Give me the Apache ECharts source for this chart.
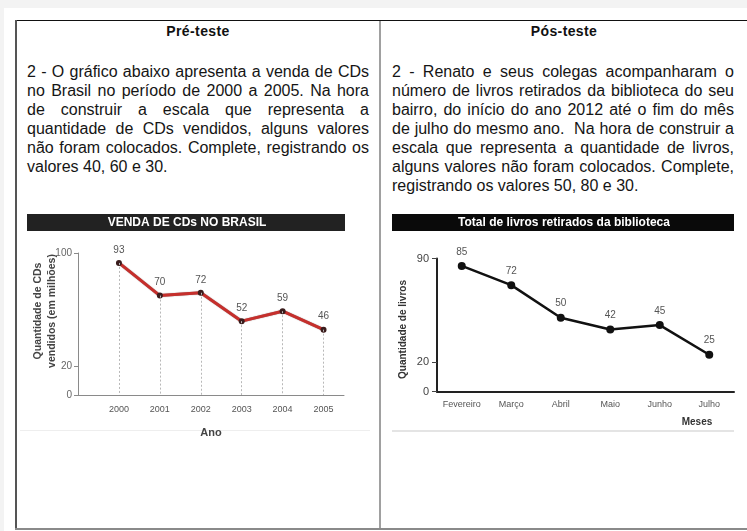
<!DOCTYPE html>
<html lang="pt-BR"><head><meta charset="utf-8">
<script src="https://cdn.jsdelivr.net/npm/echarts@6/dist/echarts.min.js"></script>
<style>
html,body{margin:0;padding:0;width:747px;height:531px;overflow:hidden;background:#f3f3f3;}
#page{position:absolute;left:4px;top:8px;width:743px;height:523px;background:#fff;}
.ln{position:absolute;}
.hd{position:absolute;top:23px;font:bold 14px "Liberation Sans",Arial,sans-serif;line-height:16px;color:#111;text-align:center;letter-spacing:0.4px;}
.par{position:absolute;top:62px;width:342px;font:16px "Liberation Sans",Arial,sans-serif;line-height:19px;color:#151515;}
.par div{text-align:justify;text-align-last:justify;white-space:nowrap;}
.par div.last{text-align:left;text-align-last:left;}
#chart{position:absolute;left:0;top:0;width:747px;height:531px;}
</style></head>
<body>
<div id="page"></div>
<div class="ln" style="left:15px;top:20px;width:732px;height:1px;background:#111"></div>
<div class="ln" style="left:15px;top:20px;width:2px;height:510px;background:#555"></div>
<div class="ln" style="left:379px;top:21px;width:2px;height:508px;background:#a0a0a0"></div>
<div class="ln" style="left:15px;top:528px;width:732px;height:2px;background:#8a8a8a"></div>
<div class="hd" style="left:17px;width:362px">Pré-teste</div>
<div class="hd" style="left:381px;width:366px">Pós-teste</div>
<div class="par" style="left:27px">
<div>2 - O gráfico abaixo apresenta a venda de CDs</div>
<div>no Brasil no período de 2000 a 2005. Na hora</div>
<div>de construir a escala que representa a</div>
<div>quantidade de CDs vendidos, alguns valores</div>
<div>não foram colocados. Complete, registrando os</div>
<div class="last">valores 40, 60 e 30.</div>
</div>
<div class="par" style="left:392px">
<div>2 - Renato e seus colegas acompanharam o</div>
<div>número de livros retirados da biblioteca do seu</div>
<div>bairro, do início do ano 2012 até o fim do mês</div>
<div>de julho do mesmo ano.&nbsp; Na hora de construir a</div>
<div>escala que representa a quantidade de livros,</div>
<div>alguns valores não foram colocados. Complete,</div>
<div class="last">registrando os valores 50, 80 e 30.</div>
</div>
<div id="chart"></div>
<script>
// ---- Pré-teste chart data ----
const years = [2000, 2001, 2002, 2003, 2004, 2005];
const cdSales = [93, 70, 72, 52, 59, 46];
const cdTickValues = [0, 20, 100];
// ---- Pós-teste chart data ----
const months = ['Fevereiro', 'Março', 'Abril', 'Maio', 'Junho', 'Julho'];
const books = [85, 72, 50, 42, 45, 25];
const bookTickValues = [0, 20, 90];

const sans = '"Liberation Sans",Arial,sans-serif';

const chart = echarts.init(document.getElementById('chart'), null, {renderer: 'canvas'});
chart.setOption({
  animation: false,
  grid: [
    {left: 78, top: 253, width: 266, height: 142},
    {left: 437, top: 258.5, width: 297, height: 133.2}
  ],
  xAxis: [
    {
      gridIndex: 0, type: 'value', min: 1999, max: 2005.5,
      axisLine: {show: true, lineStyle: {color: '#8a8a8a', width: 1}},
      axisTick: {show: false}, splitLine: {show: false},
      axisLabel: {customValues: years, formatter: v => String(v), color: '#555', fontSize: 9, fontFamily: sans, margin: 10},
      name: 'Ano', nameLocation: 'middle', nameGap: 32,
      nameTextStyle: {color: '#444', fontSize: 11, fontWeight: 'bold', fontFamily: sans}
    },
    {
      gridIndex: 1, type: 'category', data: months, boundaryGap: true,
      axisLine: {show: true, lineStyle: {color: '#222', width: 2}},
      axisTick: {show: false}, splitLine: {show: false},
      axisLabel: {interval: 0, color: '#555', fontSize: 9, fontFamily: sans, margin: 8}
    }
  ],
  yAxis: [
    {
      gridIndex: 0, type: 'value', min: 0, max: 100, interval: 20,
      axisLine: {show: true, lineStyle: {color: '#8a8a8a', width: 1}},
      axisTick: {show: true, customValues: cdTickValues, length: 4, lineStyle: {color: '#8a8a8a'}},
      axisLabel: {customValues: cdTickValues, color: '#666', fontSize: 10, fontFamily: sans, margin: 6},
      splitLine: {show: false}
    },
    {
      gridIndex: 1, type: 'value', min: 0, max: 90, interval: 10,
      axisLine: {show: true, lineStyle: {color: '#222', width: 2}},
      axisTick: {show: true, customValues: bookTickValues, length: 5, lineStyle: {color: '#444', width: 1}},
      axisLabel: {customValues: bookTickValues, color: '#444', fontSize: 11, fontFamily: sans, margin: 8},
      splitLine: {show: false}
    }
  ],
  series: [
    {
      type: 'line', xAxisIndex: 0, yAxisIndex: 0,
      data: years.map((y, i) => [y, cdSales[i]]),
      lineStyle: {color: '#c62f2c', width: 3, shadowColor: 'rgba(60,0,0,0.6)', shadowBlur: 1},
      symbol: 'circle', symbolSize: 6,
      itemStyle: {color: '#3a1c1c'},
      label: {show: true, position: 'top', distance: 5, color: '#555', fontSize: 10, fontFamily: sans,
              formatter: p => String(p.value[1])},
      markLine: {
        silent: true, symbol: ['none', 'none'], label: {show: false},
        lineStyle: {type: [2, 2], color: '#b8b8b8', width: 1},
        data: years.map((y, i) => [{coord: [y, cdSales[i]]}, {coord: [y, 0]}])
      },
      z: 3
    },
    {
      type: 'line', xAxisIndex: 1, yAxisIndex: 1,
      data: books,
      lineStyle: {color: '#111', width: 2.5},
      symbol: 'circle', symbolSize: 8,
      itemStyle: {color: '#111'},
      label: {show: true, position: 'top', distance: 5, color: '#555', fontSize: 10, fontFamily: sans},
      z: 3
    }
  ],
  graphic: [
    {type: 'rect', shape: {x: 27, y: 214, width: 318, height: 17}, style: {fill: '#222'}},
    {type: 'text', x: 187, y: 222.5, style: {text: 'VENDA DE CDs NO BRASIL', fill: '#fff', fontSize: 12, fontWeight: 'bold', fontFamily: sans, align: 'center', verticalAlign: 'middle'}},
    {type: 'rect', shape: {x: 392, y: 214, width: 342, height: 17}, style: {fill: '#0a0a0a'}},
    {type: 'text', x: 564, y: 222.5, style: {text: 'Total de livros retirados da biblioteca', fill: '#fff', fontSize: 12, fontWeight: 'bold', fontFamily: sans, align: 'center', verticalAlign: 'middle'}},
    {type: 'text', x: 45, y: 311, rotation: Math.PI / 2, style: {text: 'Quantidade de CDs\nvendidos (em milhões)', fill: '#444', fontSize: 10.5, fontWeight: 'bold', fontFamily: sans, lineHeight: 14, align: 'center', verticalAlign: 'middle'}},
    {type: 'text', x: 403, y: 329.5, rotation: Math.PI / 2, style: {text: 'Quantidade de livros', fill: '#333', fontSize: 10, fontWeight: 'bold', fontFamily: sans, align: 'center', verticalAlign: 'middle'}},
    {type: 'text', x: 697, y: 422, style: {text: 'Meses', fill: '#333', fontSize: 10, fontWeight: 'bold', fontFamily: sans, align: 'center', verticalAlign: 'middle'}},
    {type: 'rect', shape: {x: 20, y: 430, width: 350, height: 1}, style: {fill: '#eeeeee'}},
    {type: 'rect', shape: {x: 392, y: 430, width: 342, height: 2}, style: {fill: '#e4e4e4'}}
  ]
});
</script>
</body></html>
